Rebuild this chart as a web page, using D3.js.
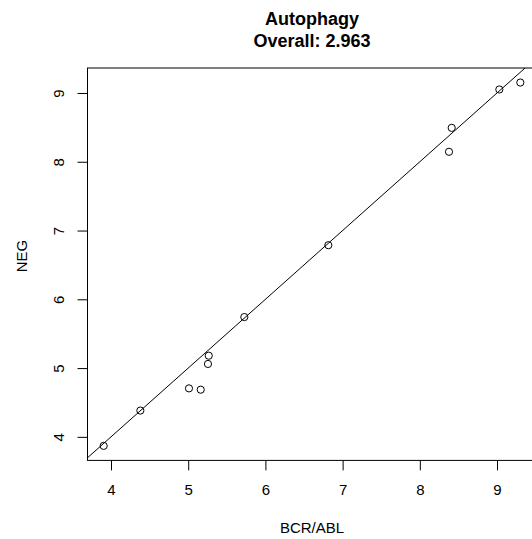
<!DOCTYPE html>
<html>
<head>
<meta charset="utf-8">
<script src="https://cdn.jsdelivr.net/npm/d3@7"></script>
<style>
  body { margin: 0; background: #fff; }
  svg { font-family: "Liberation Sans", Arial, Helvetica, sans-serif; }
</style>
</head>
<body>
<div class="layout"></div>
<script>
var title = ["Autophagy", "Overall: 2.963"];
var xLabel = "BCR/ABL";
var yLabel = "NEG";
var bcrAbl = [3.905, 4.380, 5.010, 5.162, 5.256, 5.266, 5.727, 6.815, 8.378, 8.413, 9.030, 9.302];
var neg    = [3.869, 4.382, 4.705, 4.686, 5.060, 5.180, 5.742, 6.787, 8.145, 8.493, 9.051, 9.152];
var xTicks = [4, 5, 6, 7, 8, 9];
var yTicks = [4, 5, 6, 7, 8, 9];

var margin = {top: 68, left: 87};
var width = 450, height = 392.4;

// R style axis limits: data range padded by 4%
function pad(ext) {
    var d = (ext[1] - ext[0]) * 0.04;
    return [ext[0] - d, ext[1] + d];
}

var x = d3.scaleLinear().domain(pad(d3.extent(bcrAbl))).range([0, width]);
var y = d3.scaleLinear().domain(pad(d3.extent(neg))).range([height, 0]);

var svg = d3.select(".layout").append("svg")
        .attr("width", 532)
        .attr("height", 539)
    .append("g")
        .attr("transform", "translate(" + margin.left + "," + margin.top + ")");

svg.append("defs").append("clipPath")
        .attr("id", "plotclip")
    .append("rect")
        .attr("width", width)
        .attr("height", height);

// box
svg.append("rect")
        .attr("x", 0.5)
        .attr("y", 0)
        .attr("width", width)
        .attr("height", height)
        .attr("fill", "none")
        .attr("stroke", "#000")
        .attr("stroke-width", 1);

var xAxis = d3.axisBottom(x).tickValues(xTicks).tickSize(10).tickFormat(d3.format("d"));
var yAxis = d3.axisLeft(y).tickValues(yTicks).tickSize(10).tickFormat(d3.format("d"));

var gx = svg.append("g")
        .attr("class", "x axis")
        .attr("transform", "translate(0," + height + ")")
        .call(xAxis);
gx.select(".domain").remove();
gx.selectAll("text")
        .attr("y", 35)
        .attr("dy", 0)
        .style("font-size", "15px")
        .attr("fill", "#000");

var gy = svg.append("g")
        .attr("class", "y axis")
        .attr("transform", "translate(0.5,0)")
        .call(yAxis);
gy.select(".domain").remove();
gy.selectAll("text")
        .attr("x", 0)
        .attr("dy", 0)
        .attr("transform", "translate(-24,0) rotate(-90)")
        .style("text-anchor", "middle")
        .style("font-size", "15px")
        .attr("fill", "#000");

// identity line y = x
var lo = Math.min(x.domain()[0], y.domain()[0]) - 1;
var hi = Math.max(x.domain()[1], y.domain()[1]) + 1;
svg.append("line")
        .attr("clip-path", "url(#plotclip)")
        .attr("x1", x(lo)).attr("y1", y(lo))
        .attr("x2", x(hi)).attr("y2", y(hi))
        .attr("stroke", "#000")
        .attr("stroke-width", 1);

svg.selectAll("circle.pt")
        .data(d3.range(bcrAbl.length))
    .enter().append("circle")
        .attr("class", "pt")
        .attr("cx", function(i) { return x(bcrAbl[i]); })
        .attr("cy", function(i) { return y(neg[i]); })
        .attr("r", 3.6)
        .attr("fill", "none")
        .attr("stroke", "#000")
        .attr("stroke-width", 1);

// titles
var root = d3.select(".layout svg");
root.selectAll("text.title")
        .data(title)
    .enter().append("text")
        .attr("class", "title")
        .attr("x", margin.left + width / 2)
        .attr("y", function(d, i) { return 25 + i * 22; })
        .style("text-anchor", "middle")
        .style("font-size", "18px")
        .style("font-weight", "bold")
        .text(function(d) { return d; });

root.append("text")
        .attr("x", margin.left + width / 2)
        .attr("y", 533)
        .style("text-anchor", "middle")
        .style("font-size", "15px")
        .text(xLabel);

root.append("text")
        .attr("transform", "translate(27,256) rotate(-90)")
        .style("text-anchor", "middle")
        .style("font-size", "15px")
        .text(yLabel);
</script>
</body>
</html>
